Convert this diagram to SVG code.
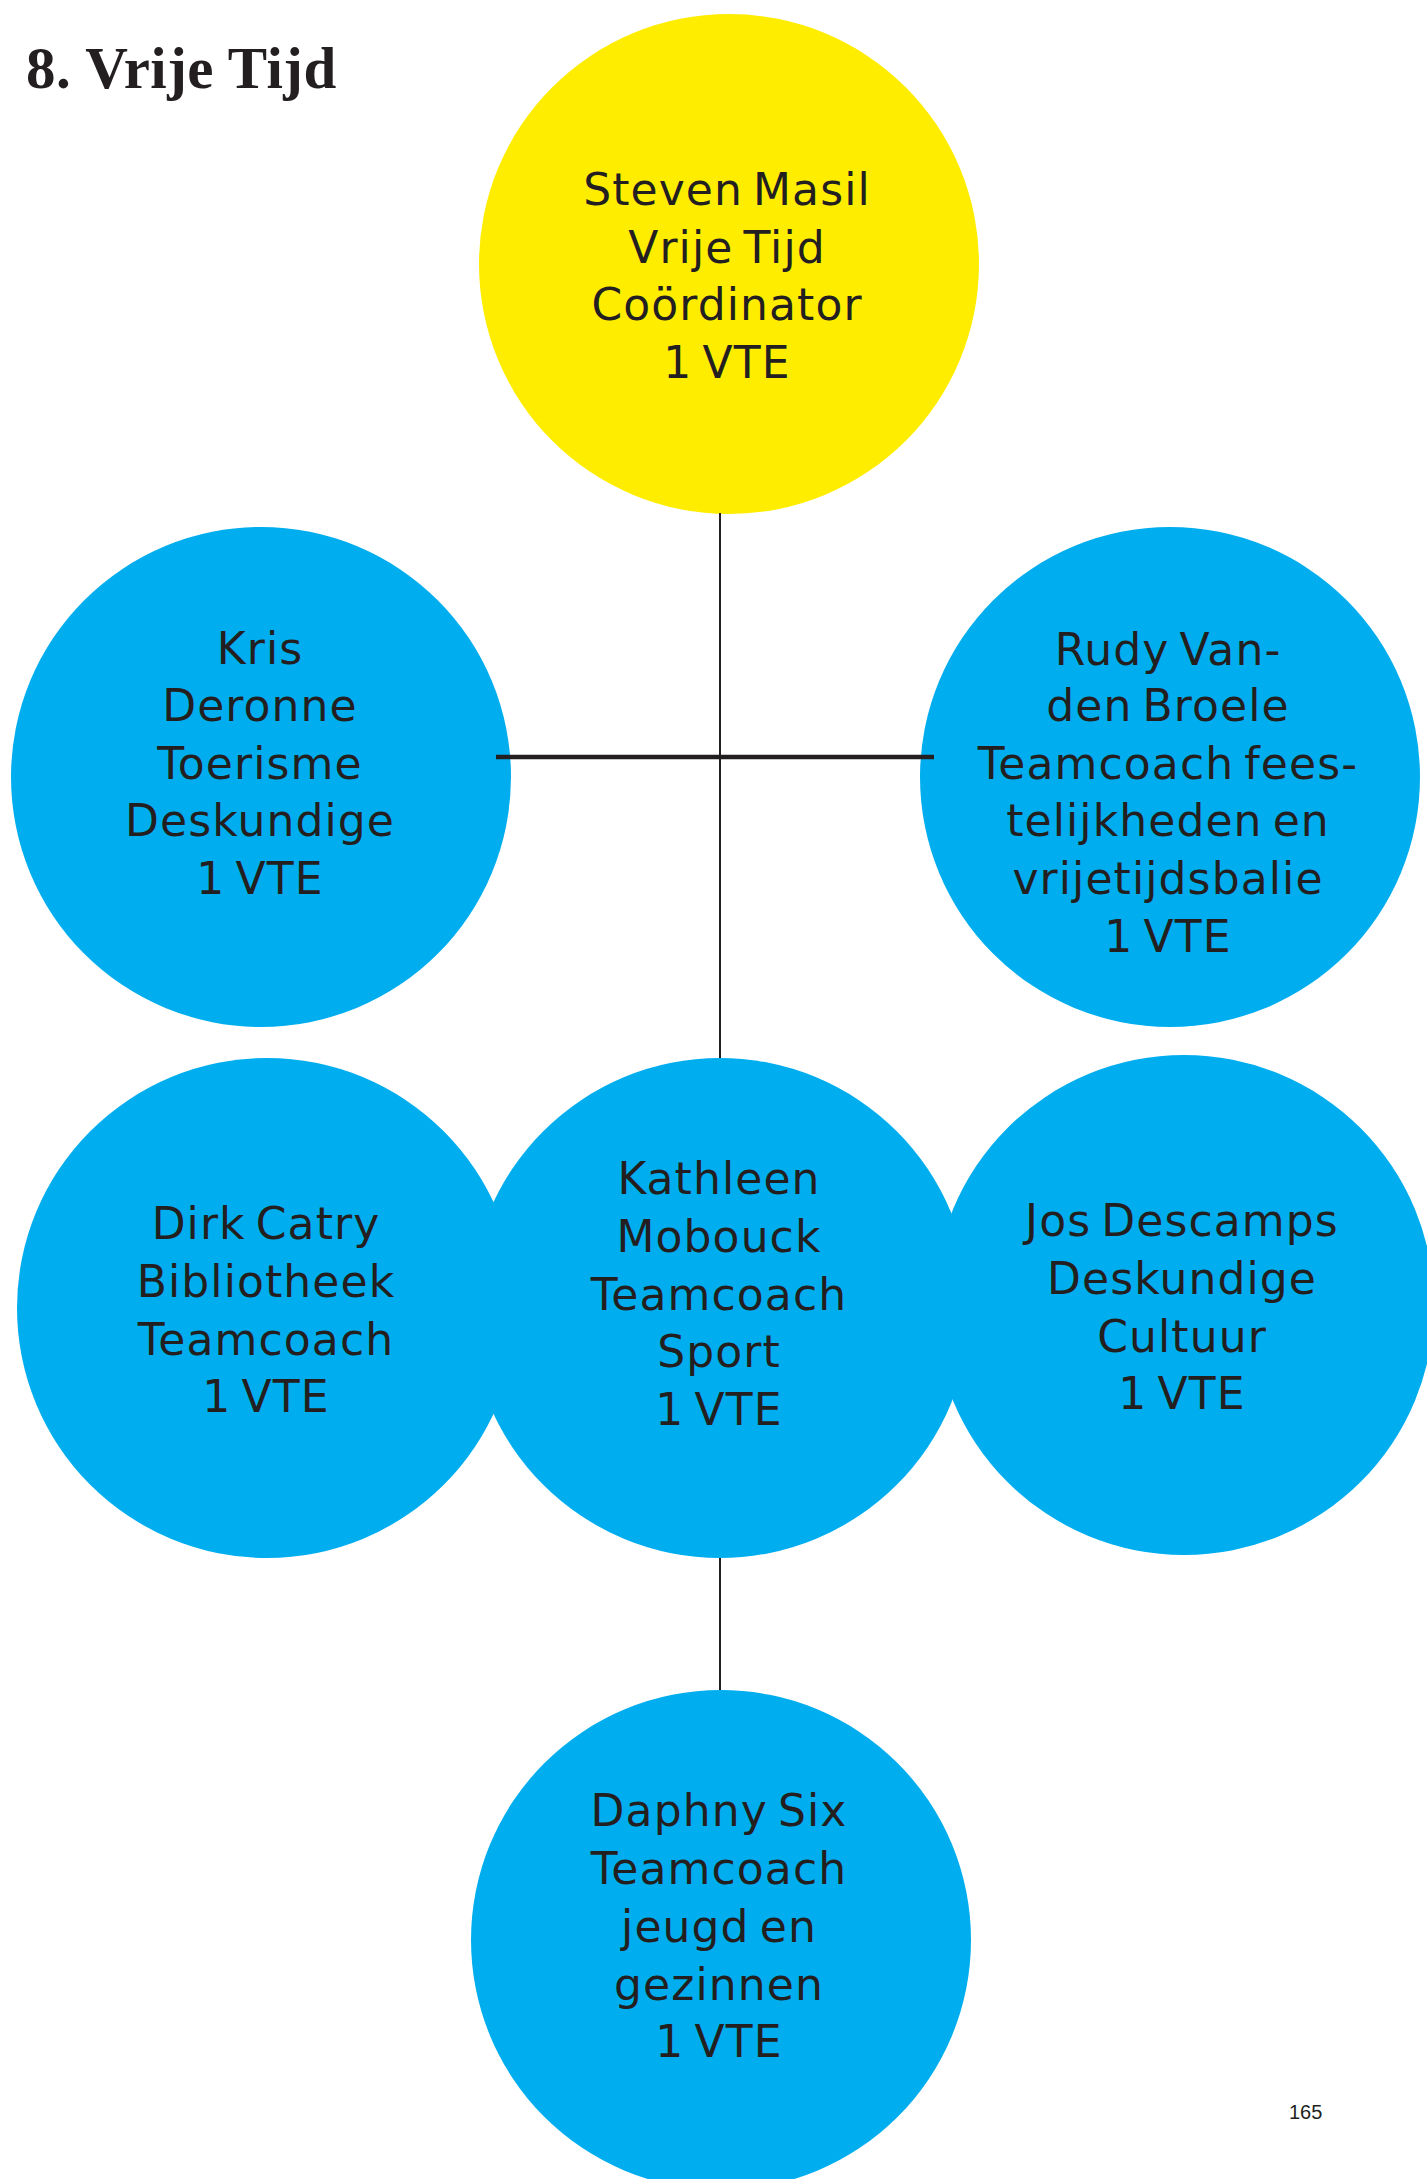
<svg xmlns="http://www.w3.org/2000/svg" width="1427" height="2179" viewBox="0 0 1427 2179">
<style>
.bg{fill:#ffffff}
.yellow{fill:#FFED00}
.blue{fill:#00AEEF}
.lbl{font-family:"DejaVu Sans","Liberation Sans",sans-serif;font-size:44px;fill:#231F20;text-anchor:middle;letter-spacing:1.1px;word-spacing:-5px}
.title{font-family:"Liberation Serif",serif;font-weight:bold;font-size:59px;fill:#231F20;letter-spacing:0.4px}
.pg{font-family:"Liberation Sans",sans-serif;font-size:20px;fill:#231F20}
.thin{stroke:#231F20;stroke-width:2;fill:none}
.thick{stroke:#231F20;stroke-width:4.5;fill:none}
</style>
<rect class="bg" x="0" y="0" width="1427" height="2179"/>
<text class="title" x="26" y="88">8. Vrije Tijd</text>
<g id="steven">
<circle class="yellow" cx="729" cy="264" r="250"/>
<text class="lbl" x="727" y="205">Steven Masil</text>
<text class="lbl" x="727" y="263">Vrije Tijd</text>
<text class="lbl" x="727" y="320">Coördinator</text>
<text class="lbl" x="727" y="378">1 VTE</text>
</g>
<g id="kris">
<circle class="blue" cx="261" cy="777" r="250"/>
<text class="lbl" x="260" y="664">Kris</text>
<text class="lbl" x="260" y="721">Deronne</text>
<text class="lbl" x="260" y="779">Toerisme</text>
<text class="lbl" x="260" y="836">Deskundige</text>
<text class="lbl" x="260" y="894">1 VTE</text>
</g>
<g id="rudy">
<circle class="blue" cx="1170" cy="777" r="250"/>
<text class="lbl" x="1168" y="665">Rudy Van-</text>
<text class="lbl" x="1168" y="721">den Broele</text>
<text class="lbl" x="1168" y="779">Teamcoach fees-</text>
<text class="lbl" x="1168" y="836">telijkheden en</text>
<text class="lbl" x="1168" y="894">vrijetijdsbalie</text>
<text class="lbl" x="1168" y="952">1 VTE</text>
</g>
<g id="dirk">
<circle class="blue" cx="267" cy="1308" r="250"/>
<text class="lbl" x="266" y="1239">Dirk Catry</text>
<text class="lbl" x="266" y="1297">Bibliotheek</text>
<text class="lbl" x="266" y="1355">Teamcoach</text>
<text class="lbl" x="266" y="1412">1 VTE</text>
</g>
<g id="jos">
<circle class="blue" cx="1184" cy="1305" r="250"/>
<text class="lbl" x="1182" y="1236">Jos Descamps</text>
<text class="lbl" x="1182" y="1294">Deskundige</text>
<text class="lbl" x="1182" y="1352">Cultuur</text>
<text class="lbl" x="1182" y="1409">1 VTE</text>
</g>
<g id="kathleen">
<circle class="blue" cx="720" cy="1308" r="250"/>
<text class="lbl" x="719" y="1194">Kathleen</text>
<text class="lbl" x="719" y="1252">Mobouck</text>
<text class="lbl" x="719" y="1310">Teamcoach</text>
<text class="lbl" x="719" y="1367">Sport</text>
<text class="lbl" x="719" y="1425">1 VTE</text>
</g>
<g id="daphny">
<circle class="blue" cx="721" cy="1940" r="250"/>
<text class="lbl" x="719" y="1826">Daphny Six</text>
<text class="lbl" x="719" y="1884">Teamcoach</text>
<text class="lbl" x="719" y="1942">jeugd en</text>
<text class="lbl" x="719" y="2000">gezinnen</text>
<text class="lbl" x="719" y="2057">1 VTE</text>
</g>
<g id="connectors">
<line class="thin" x1="720" y1="513" x2="720" y2="1058"/>
<line class="thin" x1="720" y1="1558" x2="720" y2="1690"/>
<line class="thick" x1="496" y1="757" x2="934" y2="757"/>
</g>
<text class="pg" x="1289" y="2119">165</text>
</svg>
